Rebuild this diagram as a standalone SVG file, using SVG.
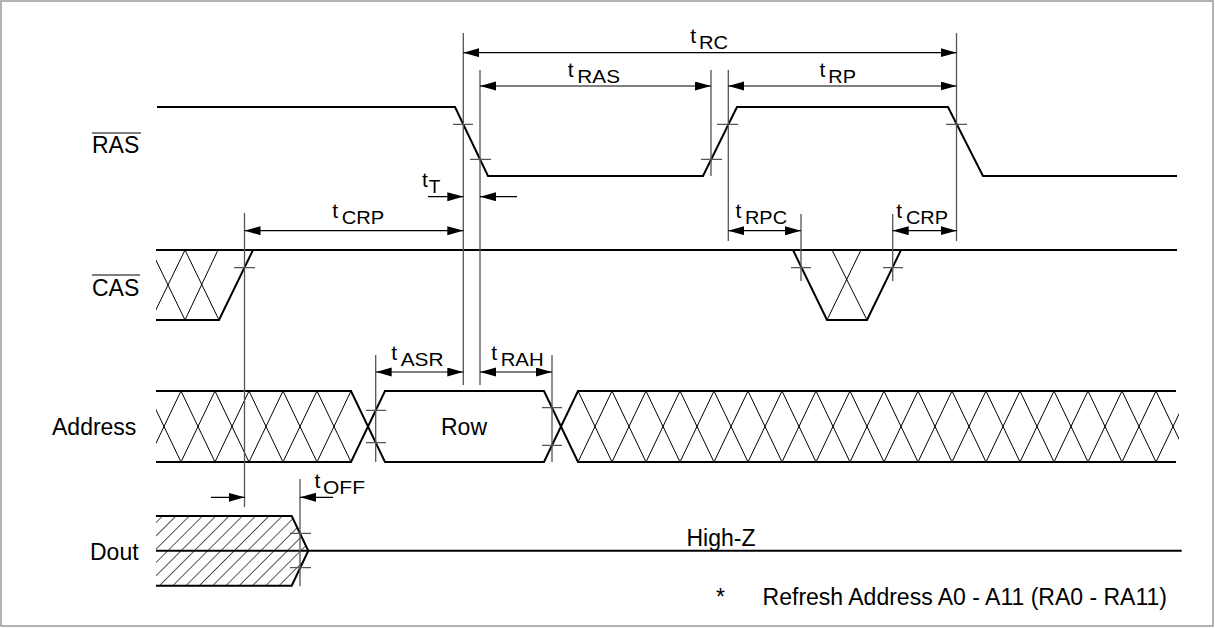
<svg xmlns="http://www.w3.org/2000/svg" width="1215" height="628" viewBox="0 0 1215 628">
<style>
.sig{stroke:#000;stroke-width:2;fill:none;stroke-linejoin:miter}
.hx{stroke:#000;stroke-width:1;fill:none}
.ext{stroke:#555;stroke-width:1.3;fill:none}
.tick{stroke:#555;stroke-width:1.3;fill:none}
.dim{stroke:#000;stroke-width:1.2;fill:none}
.both{marker-start:url(#ah);marker-end:url(#ah)}
.one{marker-end:url(#ah)}
text{font-family:"Liberation Sans",Arial,sans-serif;fill:#000}
.lbl{font-size:23px}
.tl{font-size:19px}
.tt{font-size:21px}
</style>
<defs>
<marker id="ah" markerWidth="16" markerHeight="10" refX="16" refY="4.5" orient="auto-start-reverse" markerUnits="userSpaceOnUse">
<path d="M0,0 L16,4.5 L0,9 Z" fill="#000"/>
</marker>
<pattern id="hatch" width="9.4" height="20" patternUnits="userSpaceOnUse" patternTransform="rotate(45)">
<line x1="0" y1="-2" x2="0" y2="22" stroke="#000" stroke-width="1.3"/>
</pattern>
<clipPath id="clipA1"><rect x="156" y="380" width="200" height="90"/></clipPath>
<clipPath id="clipA2"><rect x="570" y="380" width="609" height="90"/></clipPath>
<clipPath id="clipC"><rect x="156" y="245" width="70" height="80"/></clipPath>
</defs>
<rect x="1" y="1" width="1212" height="625" fill="#fff" stroke="#999" stroke-width="1.5"/>

<g id="labels">
<text class="lbl" x="92" y="153">RAS</text>
<line x1="92" y1="133" x2="141" y2="133" stroke="#000" stroke-width="1.2"/>
<text class="lbl" x="92" y="296">CAS</text>
<line x1="92" y1="275" x2="140" y2="275" stroke="#000" stroke-width="1.2"/>
<text class="lbl" x="52" y="435">Address</text>
<text class="lbl" x="90" y="560">Dout</text>
</g>

<g id="ras">
<path class="sig" d="M157,107 L455,107 L488,176 L703,176 L737,107 L948,107 L983,176 L1177,176"/>
</g>

<g id="cas">
<path class="sig" d="M156,250 L1177,250"/>
<path class="sig" d="M156,320 L219,320 L253,250"/>
<g clip-path="url(#clipC)">
<path class="hx" d="M151,250 L185,320 L218,250 M151,320 L185,250 L219,320"/>
</g>
<path class="sig" d="M793,250 L827,320 L867,320 L901,250"/>
<path class="hx" d="M832,250 L867,320 M861,250 L827,320"/>
</g>

<g id="address">
<path class="sig" d="M156,391 L351,391 L385,462 L544,462 L578,391 L1176,391"/>
<path class="sig" d="M156,462 L351,462 L385,391 L544,391 L578,462 L1176,462"/>
<g clip-path="url(#clipA1)">
<path class="hx" d="M147,462 L181,391 L215,462 L249,391 L283,462 L317,391 L351,462"/>
<path class="hx" d="M147,391 L181,462 L215,391 L249,462 L283,391 L317,462 L351,391"/>
</g>
<g clip-path="url(#clipA2)">
<path class="hx" d="M578,391 L612,462 L646,391 L680,462 L714,391 L748,462 L782,391 L816,462 L850,391 L884,462 L918,391 L952,462 L986,391 L1020,462 L1054,391 L1088,462 L1122,391 L1156,462 L1190,391"/>
<path class="hx" d="M578,462 L612,391 L646,462 L680,391 L714,462 L748,391 L782,462 L816,391 L850,462 L884,391 L918,462 L952,391 L986,462 L1020,391 L1054,462 L1088,391 L1122,462 L1156,391 L1190,462"/>
</g>
<text class="lbl" x="464" y="435" text-anchor="middle">Row</text>
</g>

<g id="dout">
<path d="M156,516 L291.7,516 L308.3,550.7 L291.7,585.7 L156,585.7 Z" fill="url(#hatch)" stroke="none"/>
<path class="sig" d="M156,516 L291.7,516 L308.3,550.7 L291.7,585.7 L156,585.7"/>
<path class="sig" d="M156,550.7 L1181.7,550.7"/>
<text class="lbl" x="721" y="546" text-anchor="middle">High-Z</text>
</g>

<g id="connectors">
<path class="ext" d="M463.3,33 V385 M480,70 V385 M711,70 V176 M728.3,70 V241 M956.5,33 V241 M244.5,213 V507 M801,214 V281 M892.7,214 V281 M375.7,355 V462 M552,355 V462 M300,479 V586"/>
<path class="tick" d="M453,124.3 H473 M470,159.3 H491 M701,159.3 H722 M717,124.3 H738 M946,124.3 H967 M234,267.7 H255 M791,267.7 H811 M883,267.7 H903 M366,410.4 H386 M366,442.6 H386 M542,407.7 H562 M542,445.3 H562 M290,533.3 H311 M290,567.7 H311"/>
<line class="dim both" x1="463.3" y1="52.7" x2="956.5" y2="52.7"/>
<line class="dim both" x1="480" y1="86" x2="711" y2="86"/>
<line class="dim both" x1="728.3" y1="86" x2="956.5" y2="86"/>
<line class="dim one" x1="428" y1="196.7" x2="463.3" y2="196.7"/>
<line class="dim one" x1="517" y1="196.7" x2="480" y2="196.7"/>
<line class="dim both" x1="244.5" y1="230.7" x2="463.3" y2="230.7"/>
<line class="dim both" x1="728.3" y1="230.7" x2="801" y2="230.7"/>
<line class="dim both" x1="892.7" y1="230.7" x2="956.5" y2="230.7"/>
<line class="dim both" x1="375.7" y1="372" x2="463.3" y2="372"/>
<line class="dim both" x1="480" y1="372" x2="552" y2="372"/>
<line class="dim one" x1="211" y1="497.3" x2="244.5" y2="497.3"/>
<line class="dim one" x1="333" y1="497.3" x2="300" y2="497.3"/>
</g>

<g id="timing-labels">
<text class="tt" x="690.2" y="43">t</text><text class="tl" x="699" y="49" textLength="29" lengthAdjust="spacingAndGlyphs">RC</text>
<text class="tt" x="567.8" y="76.5">t</text><text class="tl" x="577.3" y="82.5" textLength="42.7" lengthAdjust="spacingAndGlyphs">RAS</text>
<text class="tt" x="819.5" y="76.5">t</text><text class="tl" x="828.3" y="82.5" textLength="27.7" lengthAdjust="spacingAndGlyphs">RP</text>
<text class="tt" x="422" y="186.7">t</text><text class="tl" x="428.8" y="192.7">T</text>
<text class="tt" x="332.2" y="218">t</text><text class="tl" x="341.7" y="224" textLength="42.6" lengthAdjust="spacingAndGlyphs">CRP</text>
<text class="tt" x="735.5" y="218">t</text><text class="tl" x="745" y="224" textLength="42" lengthAdjust="spacingAndGlyphs">RPC</text>
<text class="tt" x="896.2" y="218">t</text><text class="tl" x="906" y="224" textLength="42" lengthAdjust="spacingAndGlyphs">CRP</text>
<text class="tt" x="391.3" y="360">t</text><text class="tl" x="400.7" y="366" textLength="42.9" lengthAdjust="spacingAndGlyphs">ASR</text>
<text class="tt" x="491.3" y="360">t</text><text class="tl" x="500.7" y="366" textLength="42.9" lengthAdjust="spacingAndGlyphs">RAH</text>
<text class="tt" x="314.5" y="488">t</text><text class="tl" x="323" y="494" textLength="42" lengthAdjust="spacingAndGlyphs">OFF</text>
</g>

<g id="footnote">
<text class="lbl" x="716" y="605">*</text>
<text class="lbl" x="1167" y="605" text-anchor="end">Refresh Address A0 - A11 (RA0 - RA11)</text>
</g>
</svg>
